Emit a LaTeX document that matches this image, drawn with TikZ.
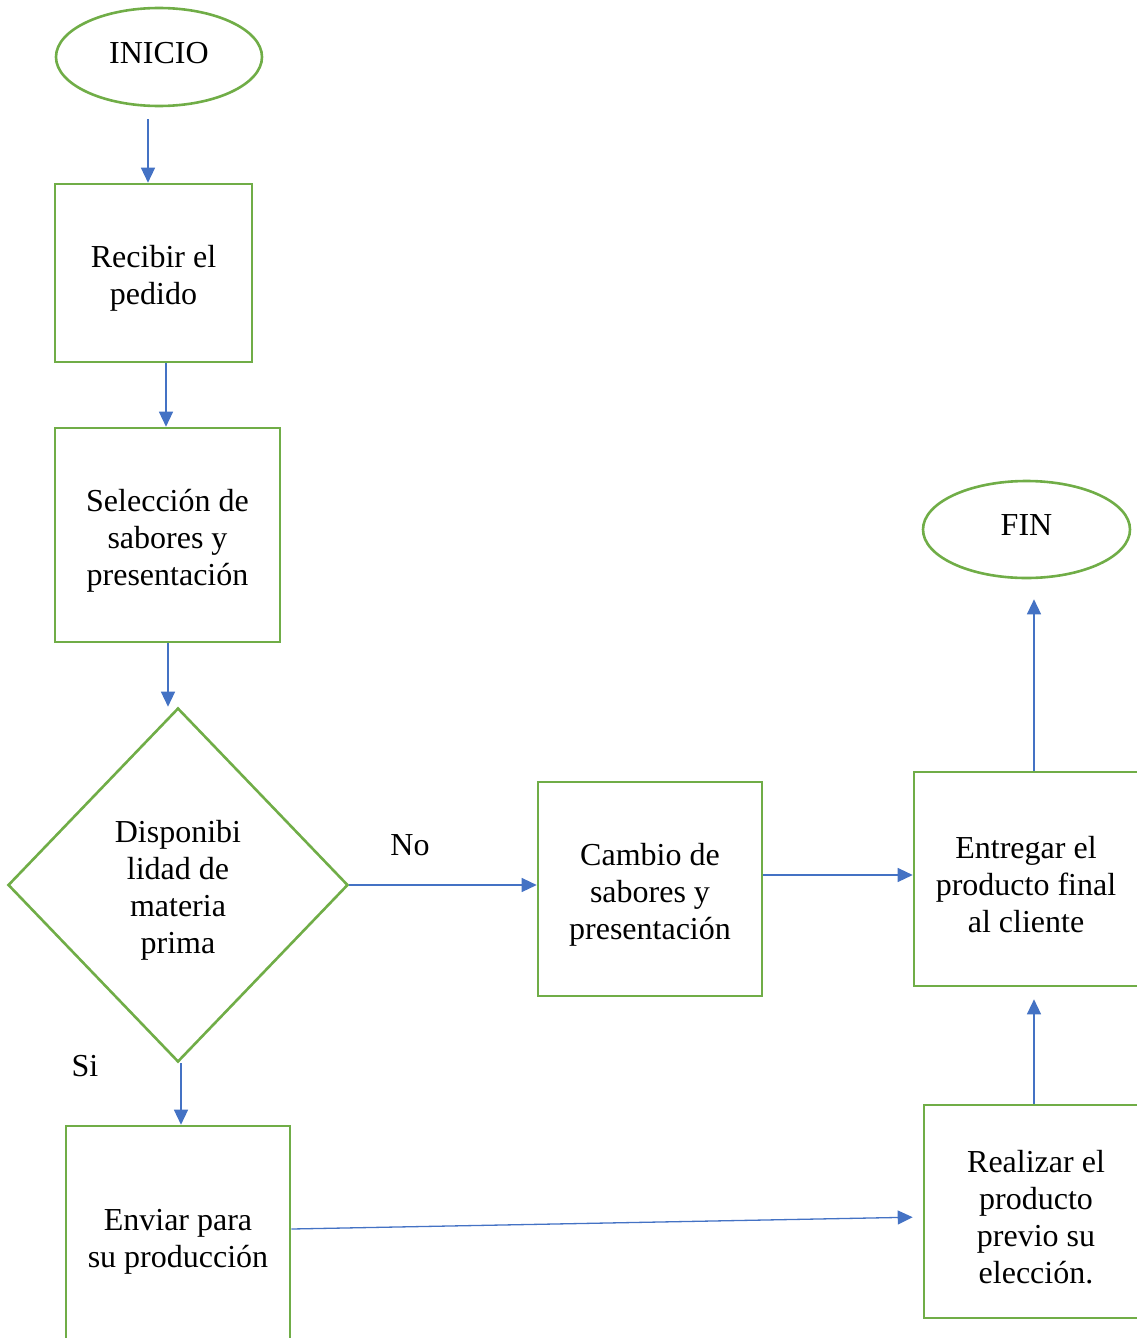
\documentclass[tikz,border=0pt]{standalone}
\usepackage{fontspec}
\setmainfont{Liberation Serif}
\usetikzlibrary{shapes.geometric, arrows.meta, positioning}

\definecolor{boxgreen}{RGB}{112,173,71}
\definecolor{arrowblue}{RGB}{68,114,196}
% taller first line, so the text block sits a little lower in its box
\newcommand{\padtop}{\rule{0pt}{33pt}}

\begin{document}
\begin{tikzpicture}[x=1pt, y=-1pt]
        % Define styles
        \tikzset{
            stepbox/.style={draw=boxgreen, line width=2.6pt, rectangle, align=center, inner sep=0pt},
            terminal/.style={draw=boxgreen, line width=2.6pt, ellipse, inner sep=0pt, text depth=9pt},
            decision/.style={draw=boxgreen, line width=2.6pt, diamond, align=center, inner sep=0pt},
            flow/.style={-{Triangle[width=14pt, length=15pt]}, draw=arrowblue, line width=1.3pt},
            tag/.style={inner sep=0pt}
        }
        \fontsize{32}{37}\selectfont
        % Page frame, boxes at the right and bottom are cut by it
        \useasboundingbox (0,0) rectangle (1137,1338);
        \clip (0,0) rectangle (1137,1338);
        % Start and end
        \node[terminal, minimum width=206pt, minimum height=98pt] (inicio) at (159,57) {INICIO};
        \node[terminal, minimum width=207pt, minimum height=97pt] (fin) at (1026.5,529.5) {FIN};
        % Left column
        \node[stepbox, minimum width=197pt, minimum height=178pt] (recibir) at (153.5,273) {\padtop Recibir el\\pedido};
        \node[stepbox, minimum width=225pt, minimum height=214pt] (seleccion) at (167.5,535) {\padtop Selección de\\sabores y\\presentación};
        \node[decision, minimum width=340pt, minimum height=354pt] (disponible) at (178,885) {\padtop Disponibi\\lidad de\\materia\\prima};
        \node[stepbox, minimum width=224pt, minimum height=220pt] (enviar) at (178,1236) {\padtop Enviar para\\su producción};
        % Middle and right column
        \node[stepbox, minimum width=224pt, minimum height=214pt] (cambio) at (650,889) {\padtop Cambio de\\sabores y\\presentación};
        \node[stepbox, minimum width=224pt, minimum height=214pt] (entregar) at (1026,879) {\padtop Entregar el\\producto final\\al cliente};
        \node[stepbox, minimum width=224pt, minimum height=213pt] (realizar) at (1036,1211.5) {\padtop Realizar el\\producto\\previo su\\elección.};
        % Branch labels
        \node[tag] (no) at (410,845) {No};
        \node[tag] (si) at (85,1066) {Si};
        % Connectors
        \draw[flow, shorten <=12pt] ([xshift=-11pt]inicio.south) -- ([xshift=-5.5pt]recibir.north);
        \draw[flow] ([xshift=12.5pt]recibir.south) -- ([xshift=-1.5pt]seleccion.north);
        \draw[flow] ([xshift=0.5pt]seleccion.south) -- ([xshift=-10pt]disponible.north);
        \draw[flow] (disponible.east) -- (disponible.east -| cambio.west);
        \draw[flow] ([xshift=3pt]disponible.south) -- ([xshift=3pt]enviar.north);
        \draw[flow] ([yshift=14pt]cambio.east) -- ([yshift=4pt]entregar.west);
        \draw[flow, shorten >=20pt] ([xshift=8pt]entregar.north) -- ([xshift=7.5pt]fin.south);
        \draw[flow, shorten >=12pt] ([xshift=-2pt]realizar.north) -- ([xshift=8pt]entregar.south);
        \draw[flow, shorten >=10pt] ([yshift=7pt]enviar.east) -- ([yshift=-5.5pt]realizar.west);
    \end{tikzpicture}
\end{document}
